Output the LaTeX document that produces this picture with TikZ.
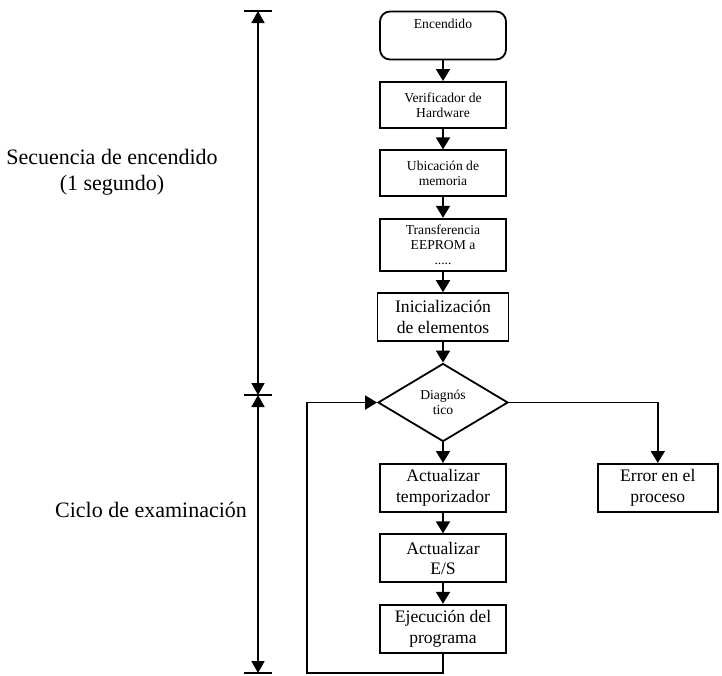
\documentclass[tikz,border=0pt]{standalone}
\usepackage{fontspec}
\setmainfont{Liberation Serif}
\usepackage{tikz}
\usetikzlibrary{shapes,arrows,arrows.meta,positioning,calc}

\tikzset{
  proc/.style={rectangle, draw, line width=0.9pt, minimum width=63pt, minimum height=24pt, align=center, inner sep=2pt},
  smalltext/.style={font=\fontsize{6.8}{7.6}\selectfont},
  boxtext/.style={font=\fontsize{8.8}{10.2}\selectfont},
  sidetext/.style={font=\fontsize{11}{13}\selectfont, align=center},
  flow/.style={line width=0.9pt, -{Triangle[length=6pt,width=7pt]}},
  dim/.style={line width=0.9pt, {Triangle[length=6pt,width=6.5pt]}-{Triangle[length=6pt,width=6.5pt]}},
}

\begin{document}
\begin{tikzpicture}[x=0.5pt, y=-0.5pt, node distance=10.3pt]
    \useasboundingbox (0,0) rectangle (722,675);

    % main column
    \node (enc) [proc, smalltext, rounded corners=5pt, text height=5pt, text depth=12.5pt, inner ysep=3pt] at (443,35.5) {Encendido};
    \node (hw) [proc, smalltext, minimum height=23pt, below=of enc] {Verificador de\\Hardware};
    \node (mem) [proc, smalltext, minimum height=23pt, below=of hw] {Ubicación de\\memoria};
    \node (eep) [proc, smalltext, minimum height=26pt, below=of mem] {Transferencia\\EEPROM a\\.....};
    \node (init) [proc, boxtext, minimum width=65.5pt, below=of eep] {Inicialización\\de elementos};
    \node (diag) [diamond, draw, line width=0.9pt, smalltext, aspect=1.67, minimum width=65pt, minimum height=39pt, inner sep=0pt, align=center, below=of init] {Diagnós\\tico};
    \node (temp) [proc, boxtext, below=of diag] {Actualizar\\temporizador};
    \node (es) [proc, boxtext, below=of temp] {Actualizar\\E/S};
    \node (prog) [proc, boxtext, below=of es] {Ejecución del\\programa};
    \node (err) [proc, boxtext, minimum width=60pt, right=45pt of temp] {Error en el\\proceso};

    \foreach \a/\b in {enc/hw, hw/mem, mem/eep, eep/init, init/diag, diag/temp, temp/es, es/prog}
        \draw [flow] (\a) -- (\b);

    % loop back and error branch
    \coordinate (back) at (307,673);
    \draw [flow] (prog.south) |- (back) |- (diag.west);
    \draw [flow] (diag.east) -| (err.north);

    % time scale on the left
    \coordinate (dtop) at (258,11);
    \coordinate (dmid) at (258,395);
    \coordinate (dbot) at (258,673);
    \foreach \c in {dtop,dmid,dbot}
        \draw [line width=0.9pt] ([xshift=-7pt]\c) -- ([xshift=7pt]\c);
    \draw [dim] (dtop) -- (dmid);
    \draw [dim] (dmid) -- (dbot);

    \node (seq) [sidetext] at (112,172) {Secuencia de encendido\\(1 segundo)};
    \node (ciclo) [sidetext] at (151,510) {Ciclo de examinación};
\end{tikzpicture}
\end{document}
